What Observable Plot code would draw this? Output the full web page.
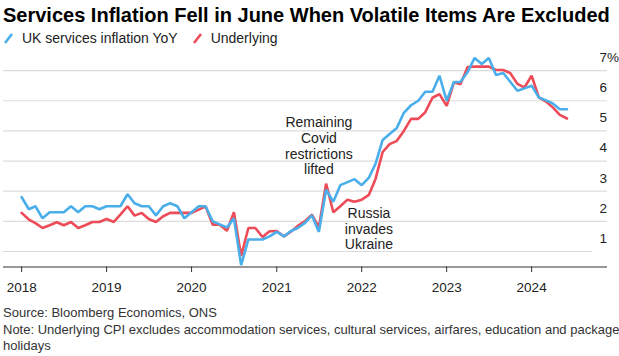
<!DOCTYPE html>
<html><head><meta charset="utf-8">
<script src="https://cdn.jsdelivr.net/npm/d3@7"></script>
<script src="https://cdn.jsdelivr.net/npm/@observablehq/plot@0.6"></script>
<style>
body{margin:0;background:#fff;font-family:"Liberation Sans",Arial,sans-serif;width:619px;height:356px;overflow:hidden;position:relative}
#title{position:absolute;left:3px;top:3px;font-size:20px;font-weight:bold;color:#000;white-space:nowrap;line-height:24px}
#legend{position:absolute;left:3px;top:29px;font-size:14px;color:#222;display:flex;align-items:center;line-height:18px;white-space:nowrap}
#legend .sw{display:inline-block;width:12px;height:12px;margin-right:7px}
#legend .item{display:flex;align-items:center;margin-right:14px}
#chart{position:absolute;left:0;top:48px}
#footer{position:absolute;left:3px;top:305px;font-size:13px;line-height:16.5px;color:#333;white-space:nowrap}
</style></head>
<body>
<div id="title">Services Inflation Fell in June When Volatile Items Are Excluded</div>
<div id="legend"></div>
<div id="chart"></div>
<div id="footer">Source: Bloomberg Economics, ONS<br>Note: Underlying CPI excludes accommodation services, cultural services, airfares, education and package<br>holidays</div>
<script>
// Monthly series, Jan 2018 .. Jun 2024
const startYear = 2018;
const seriesNames = ["UK services inflation YoY", "Underlying"];
const seriesColors = ["#4aaeea", "#ec4b57"];
const services = [
  2.8, 2.4, 2.5, 2.1, 2.3, 2.3, 2.3, 2.5, 2.3, 2.5, 2.5, 2.4,
  2.5, 2.5, 2.5, 2.9, 2.6, 2.5, 2.5, 2.2, 2.5, 2.6, 2.5, 2.1,
  2.3, 2.5, 2.5, 2.0, 1.9, 1.8, 2.1, 0.55, 1.4, 1.4, 1.4, 1.5,
  1.65, 1.5, 1.67, 1.78, 1.94, 2.2, 1.65, 3.05, 2.65, 3.2, 3.3, 3.4,
  3.2, 3.45, 3.9, 4.7, 4.9, 5.1, 5.6, 5.85, 6.0, 6.3, 6.3, 6.83,
  6.0, 6.62, 6.62, 6.95, 7.42, 7.22, 7.42, 6.85, 6.92, 6.63, 6.33, 6.41,
  6.5, 6.11, 6.02, 5.91, 5.72, 5.72
];
const underlying = [
  2.28, 2.06, 1.94, 1.78, 1.87, 1.97, 1.87, 1.98, 1.78, 1.87, 1.98, 1.98,
  2.08, 1.98, 2.22, 2.5, 2.19, 2.28, 2.08, 1.98, 2.17, 2.28, 2.28, 2.28,
  2.28, 2.39, 2.5, 1.89, 1.89, 1.69, 2.3, 0.85, 1.78, 1.78, 1.48, 1.67,
  1.68, 1.5, 1.65, 1.85, 2.0, 2.22, 1.8, 3.25, 2.3, 2.5, 2.72, 2.65,
  2.72, 2.88, 3.4, 4.3, 4.56, 4.67, 5.0, 5.4, 5.4, 5.62, 6.1, 6.22,
  5.83, 6.61, 6.55, 7.12, 7.13, 7.13, 7.13, 7.02, 7.02, 6.92, 6.56, 6.44,
  6.83, 6.11, 5.98, 5.78, 5.53, 5.41
];
const yearTicks = [2018, 2019, 2020, 2021, 2022, 2023, 2024];
const yTicks = [1, 2, 3, 4, 5, 6, 7];
const annotations = [
  {year: 2021, month: 6, value: 4.51, text: "Remaining\nCovid\nrestrictions\nlifted"},
  {year: 2022, month: 1, value: 1.76, text: "Russia\ninvades\nUkraine"}
];

const monthDate = i => new Date(Date.UTC(startYear, i, 1));
const rows = [];
[services, underlying].forEach((arr, s) => arr.forEach((v, i) => rows.push({date: monthDate(i), value: v, series: seriesNames[s]})));
const annRows = annotations.map(a => ({date: new Date(Date.UTC(a.year, a.month, 1)), value: a.value, text: a.text}));
const yMin = 0.486, yMax = 7.6;

// legend
const lg = document.getElementById("legend");
seriesNames.forEach((n, i) => {
  const it = document.createElement("span");
  it.className = "item";
  it.innerHTML = `<svg class="sw" viewBox="0 0 12 12"><line x1="2" y1="11" x2="9" y2="2" stroke="${seriesColors[i]}" stroke-width="2.6"/></svg>${n}`;
  lg.appendChild(it);
});

const chart = Plot.plot({
  width: 619,
  height: 250,
  marginTop: 4,
  marginBottom: 31.5,
  marginLeft: 3,
  marginRight: 12,
  style: {fontFamily: '"Liberation Sans", Arial, sans-serif', fontSize: "13.5px", color: "#222", background: "#fff", overflow: "visible"},
  x: {type: "utc", domain: [new Date(Date.UTC(2017, 9, 15)), new Date(Date.UTC(2024, 10, 22))]},
  y: {domain: [yMin, yMax]},
  color: {domain: seriesNames, range: seriesColors},
  marks: [
    Plot.ruleY(yTicks.filter(d => d > 1), {stroke: "#dcdcdc", strokeWidth: 1.2}),
    Plot.ruleY(yTicks.filter(d => d === 1), {stroke: "#dcdcdc", strokeWidth: 1.2, insetRight: 15}),
    Plot.axisY({anchor: "right", ticks: yTicks, tickSize: 0, tickPadding: 0, dx: -8, dy: -13, textAnchor: "start",
      tickFormat: d => d === 7 ? "7%" : String(d), label: null}),
    Plot.axisX({ticks: yearTicks.map(y => new Date(Date.UTC(y, 0, 1))), tickSize: 5.5, tickPadding: 9.5,
      tickFormat: d => String(d.getUTCFullYear()), label: null, stroke: "#333"}),
    Plot.ruleY([yMin], {stroke: "#333", strokeWidth: 1.2}),
    Plot.line(rows.filter(r => r.series === seriesNames[1]), {x: "date", y: "value", stroke: "series", strokeWidth: 2.6, strokeLinejoin: "miter"}),
    Plot.line(rows.filter(r => r.series === seriesNames[0]), {x: "date", y: "value", stroke: "series", strokeWidth: 2.6, strokeLinejoin: "miter"}),
    Plot.text(annRows, {x: "date", y: "value", text: "text", fontSize: 14, lineHeight: 1.12, textAnchor: "middle", fill: "#222"})
  ]
});
document.getElementById("chart").appendChild(chart);
</script>
</body></html>
